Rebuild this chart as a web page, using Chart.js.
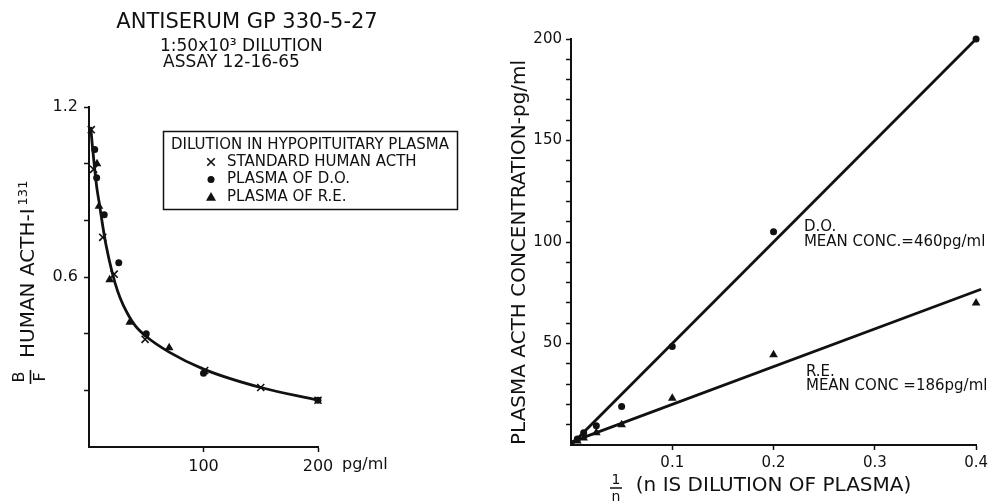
<!DOCTYPE html>
<html>
<head>
<meta charset="utf-8">
<script src="https://cdn.jsdelivr.net/npm/chart.js@4.4.1/dist/chart.umd.min.js"></script>
<style>
html, body { margin: 0; padding: 0; background: #fff; }
#wrap { position: relative; width: 992px; height: 502px; overflow: hidden; background: #fff; }
#c1 { position: absolute; left: 0; top: 0; }
#c2 { position: absolute; left: 490px; top: 0; }
</style>
</head>
<body>
<div id="wrap">
  <canvas id="c1" width="490" height="502"></canvas>
  <canvas id="c2" width="502" height="502"></canvas>
</div>
<script>
// ---- left panel: B/F vs pg/ml (standard curve) ----
var curveX = [1.5, 3, 5, 7, 9, 12, 15, 20, 25, 30, 40, 50, 70, 100, 150, 200];
var curveY = [1.13, 1.06, 0.98, 0.91, 0.86, 0.78, 0.71, 0.62, 0.55, 0.50, 0.43, 0.39, 0.335, 0.275, 0.21, 0.165];
var stdX = [2, 4, 12, 22, 49, 101, 150, 200];
var stdY = [1.12, 0.98, 0.74, 0.61, 0.38, 0.27, 0.21, 0.165];
var doX = [5, 6.7, 13.3, 26, 50, 100, 200];
var doY = [1.05, 0.95, 0.82, 0.65, 0.40, 0.26, 0.165];
var reX = [7, 8.7, 18, 35.6, 70];
var reY = [1.0, 0.85, 0.59, 0.44, 0.35];
var leftTicksY = [0.6, 1.2];

// ---- right panel: plasma ACTH vs 1/n ----
var invN = [0.00625, 0.0125, 0.025, 0.05, 0.1, 0.2, 0.4];
var doConc = [3, 6, 9.5, 19, 48.5, 105, 200];
var reConc = [2, 3.5, 6, 10, 23, 44.5, 70];
var doFitX = [0, 0.4], doFitY = [0, 200];
var reFitX = [0, 0.405], reFitY = [1.4, 76.7];

var titleLines = ['ANTISERUM GP 330-5-27', '1:50x10\u00B3 DILUTION', 'ASSAY 12-16-65'];
var legendHead = 'DILUTION IN HYPOPITUITARY PLASMA';
var noteText = ['D.O.', 'MEAN CONC.=460pg/ml', 'R.E.', 'MEAN CONC =186pg/ml'];
var noteX = [0.23, 0.23, 0.232, 0.232];
var noteY = [107.5, 100, 36, 29];

var INK = '#111';
var FONT = "'DejaVu Sans', 'Open Sans', sans-serif";
Chart.defaults.font.family = FONT;
Chart.defaults.color = INK;

function pts(xs, ys) {
  return xs.map(function (x, i) { return { x: x, y: ys[i] }; });
}
function near(v, list) {
  for (var i = 0; i < list.length; i++) if (Math.abs(v - list[i]) < 1e-6) return true;
  return false;
}

function drawMark(ctx, style, r, x, y) {
  ctx.save();
  ctx.fillStyle = INK; ctx.strokeStyle = INK; ctx.lineWidth = 1.6;
  ctx.beginPath();
  if (style === 'crossRot') {
    ctx.moveTo(x - r * 0.75, y - r * 0.75); ctx.lineTo(x + r * 0.75, y + r * 0.75);
    ctx.moveTo(x + r * 0.75, y - r * 0.75); ctx.lineTo(x - r * 0.75, y + r * 0.75);
    ctx.stroke();
  } else if (style === 'circle') {
    ctx.arc(x, y, r, 0, Math.PI * 2); ctx.fill();
  } else {
    ctx.moveTo(x, y - r); ctx.lineTo(x + r, y + r * 0.75); ctx.lineTo(x - r, y + r * 0.75);
    ctx.closePath(); ctx.fill();
  }
  ctx.restore();
}

var leftDecor = {
  id: 'leftDecor',
  afterDraw: function (chart) {
    var ctx = chart.ctx;
    ctx.save();
    ctx.fillStyle = INK;
    ctx.strokeStyle = INK;
    // title
    ctx.textBaseline = 'middle';
    ctx.textAlign = 'center';
    ctx.font = '21px ' + FONT;
    ctx.fillText(titleLines[0], 247, 23);
    ctx.textAlign = 'left';
    ctx.font = '17px ' + FONT;
    ctx.fillText(titleLines[1], 160, 47);
    ctx.fillText(titleLines[2], 163, 63);

    // legend box
    ctx.lineWidth = 1.5;
    ctx.strokeRect(163.5, 131.5, 294, 78);
    ctx.font = '15px ' + FONT;
    ctx.fillText(legendHead, 171, 145);
    var ds = chart.data.datasets;
    var yy = 162;
    for (var i = 1; i < ds.length; i++) {
      drawMark(ctx, ds[i].pointStyle, ds[i].pointStyle === 'circle' ? 3.5 : 5, 211, yy);
      ctx.fillStyle = INK;
      ctx.fillText(ds[i].label, 227, yy);
      yy += 17.5;
    }

    // y-axis title: B/F  HUMAN ACTH-I 131
    ctx.save();
    ctx.translate(29, 358);
    ctx.rotate(-Math.PI / 2);
    ctx.textAlign = 'left';
    ctx.font = '20px ' + FONT;
    ctx.fillText('HUMAN ACTH-I', 0, 0);
    var w = ctx.measureText('HUMAN ACTH-I').width;
    ctx.font = '13px ' + FONT;
    ctx.fillText('131', w + 3, -5);
    ctx.restore();

    ctx.save();
    ctx.translate(30, 377);
    ctx.rotate(-Math.PI / 2);
    ctx.textAlign = 'center';
    ctx.font = '16px ' + FONT;
    ctx.fillText('B', 0, -10);
    ctx.fillText('F', 0, 11);
    ctx.lineWidth = 1.6;
    ctx.beginPath(); ctx.moveTo(-7, 0.5); ctx.lineTo(7, 0.5); ctx.stroke();
    ctx.restore();

    // unit after the 200 tick label
    var xs = chart.scales.x;
    ctx.font = '16px ' + FONT;
    ctx.textAlign = 'left';
    ctx.fillText('pg/ml', xs.getPixelForValue(200) + 24, 465);
    ctx.restore();
  }
};

var rightDecor = {
  id: 'rightDecor',
  afterDraw: function (chart) {
    var ctx = chart.ctx;
    var xs = chart.scales.x, ys = chart.scales.y;
    ctx.save();
    ctx.fillStyle = INK; ctx.strokeStyle = INK;
    ctx.textAlign = 'left'; ctx.textBaseline = 'middle';
    ctx.font = '15px ' + FONT;
    for (var i = 0; i < noteText.length; i++) {
      ctx.fillText(noteText[i], xs.getPixelForValue(noteX[i]), ys.getPixelForValue(noteY[i]));
    }
    // 1/n fraction in front of the x title
    var fx = xs.getPixelForValue(0) + 45;
    ctx.textAlign = 'center';
    ctx.font = '14px ' + FONT;
    ctx.fillText('1', fx, 480);
    ctx.lineWidth = 1.5;
    ctx.beginPath(); ctx.moveTo(fx - 6, 488); ctx.lineTo(fx + 6, 488); ctx.stroke();
    ctx.fillText('n', fx, 497);
    ctx.restore();
  }
};

function axisBase() {
  return {
    type: 'linear',
    border: { display: true, color: INK, width: 2 },
    grid: {
      drawOnChartArea: false, drawTicks: true, tickLength: 5, tickWidth: 1.5,
      tickColor: function (c) { return c.tick && c.tick.value === 0 ? 'rgba(0,0,0,0)' : INK; }
    }
  };
}

var lx = axisBase();
lx.min = 0; lx.max = 200;
lx.ticks = { stepSize: 100, autoSkip: false, maxRotation: 0, padding: 5, font: { size: 16 }, color: INK,
  callback: function (v) { return v === 0 ? '' : String(v); } };
lx.afterFit = function (s) { s.height = 55; };

var ly = axisBase();
ly.min = 0; ly.max = 1.2;
ly.ticks = { stepSize: 0.2, autoSkip: false, padding: 6, font: { size: 16 }, color: INK,
  callback: function (v) { return near(v, leftTicksY) ? v.toFixed(1) : ''; } };
ly.afterFit = function (s) { s.width = 89; };

new Chart(document.getElementById('c1'), {
  type: 'scatter',
  data: {
    datasets: [
      { label: 'curve', data: pts(curveX, curveY), showLine: true, pointRadius: 0, borderColor: INK, borderWidth: 2.8, cubicInterpolationMode: 'monotone', clip: false },
      { label: 'STANDARD HUMAN ACTH', data: pts(stdX, stdY), pointStyle: 'crossRot', pointRadius: 5, borderColor: INK, backgroundColor: INK, borderWidth: 1.6, clip: false },
      { label: 'PLASMA OF D.O.', data: pts(doX, doY), pointStyle: 'circle', pointRadius: 3.5, borderColor: INK, backgroundColor: INK, borderWidth: 0, clip: false },
      { label: 'PLASMA OF R.E.', data: pts(reX, reY), pointStyle: 'triangle', pointRadius: 5, borderColor: INK, backgroundColor: INK, borderWidth: 0, clip: false }
    ]
  },
  options: {
    responsive: false, animation: false, events: [],
    layout: { padding: { left: 0, top: 107, right: 172, bottom: 0 } },
    plugins: { legend: { display: false }, tooltip: { enabled: false } },
    scales: { x: lx, y: ly }
  },
  plugins: [leftDecor]
});

var rx = axisBase();
rx.min = 0; rx.max = 0.4;
rx.ticks = { stepSize: 0.1, autoSkip: false, maxRotation: 0, padding: 4, font: { size: 15 }, color: INK,
  callback: function (v) { return v < 1e-9 ? '' : v.toFixed(1); } };
rx.title = { display: true, text: '(n IS DILUTION OF PLASMA)', color: INK, font: { size: 20 }, padding: { top: 0, bottom: 4 } };
rx.afterFit = function (s) { s.height = 57; };

var ry = axisBase();
ry.min = 0; ry.max = 200;
ry.ticks = { stepSize: 10, autoSkip: false, padding: 4, font: { size: 15 }, color: INK,
  callback: function (v) { return (v > 0 && Math.round(v) % 50 === 0) ? String(Math.round(v)) : ''; } };
ry.title = { display: true, align: 'start', text: 'PLASMA ACTH CONCENTRATION-pg/ml', color: INK, font: { size: 20 }, padding: { top: 18, bottom: 0 } };
ry.afterFit = function (s) { s.width = 81; };

new Chart(document.getElementById('c2'), {
  type: 'scatter',
  data: {
    datasets: [
      { label: 'D.O. fit', data: pts(doFitX, doFitY), showLine: true, pointRadius: 0, borderColor: INK, borderWidth: 2.8, clip: false },
      { label: 'R.E. fit', data: pts(reFitX, reFitY), showLine: true, pointRadius: 0, borderColor: INK, borderWidth: 2.8, clip: false },
      { label: 'D.O.', data: pts(invN, doConc), pointStyle: 'circle', pointRadius: 3.5, borderColor: INK, backgroundColor: INK, borderWidth: 0, clip: false },
      { label: 'R.E.', data: pts(invN, reConc), pointStyle: 'triangle', pointRadius: 5, borderColor: INK, backgroundColor: INK, borderWidth: 0, clip: false }
    ]
  },
  options: {
    responsive: false, animation: false, events: [],
    layout: { padding: { left: 0, top: 39, right: 15, bottom: 0 } },
    plugins: { legend: { display: false }, tooltip: { enabled: false } },
    scales: { x: rx, y: ry }
  },
  plugins: [rightDecor]
});
</script>
</body>
</html>
